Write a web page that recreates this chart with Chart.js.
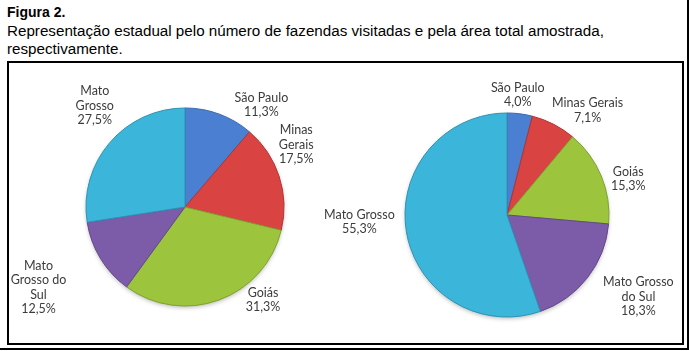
<!DOCTYPE html>
<html>
<head>
<meta charset="utf-8">
<script src="https://cdn.jsdelivr.net/npm/chart.js@4"></script>
<style>
  body { margin: 0; width: 690px; height: 351px; background: #fff; position: relative; overflow: hidden; }
  #title { position: absolute; left: 7px; top: 4px; font: bold 14px "Liberation Sans", sans-serif; color: #000; }
  #caption { position: absolute; left: 7px; top: 22px; font: 15.2px "Liberation Sans", sans-serif; line-height: 18px; color: #000; }
  #outerR { position: absolute; left: 687px; top: 0; width: 2px; height: 350px; background: #000; }
  #outerB { position: absolute; left: 0; top: 348px; width: 689px; height: 2px; background: #000; }
  #box { position: absolute; left: 7px; top: 61px; width: 673px; height: 280px; border: 2px solid #000; }
  #leftWrap { position: absolute; left: 0; top: 0; width: 321px; height: 280px; }
  #rightWrap { position: absolute; left: 281px; top: 0; width: 392px; height: 280px; }
</style>
</head>
<body>
<div id="title">Figura 2.</div>
<div id="caption">Representação estadual pelo número de fazendas visitadas e pela área total amostrada,<br>respectivamente.</div>
<div id="outerR"></div>
<div id="outerB"></div>
<div id="box">
  <div id="leftWrap"><canvas id="farmsChart"></canvas></div>
  <div id="rightWrap"><canvas id="areaChart"></canvas></div>
</div>
<script>
// ============================
// DATA
// ============================
const states = ["São Paulo", "Minas Gerais", "Goiás", "Mato Grosso do Sul", "Mato Grosso"];
const farmsShare = [11.3, 17.5, 31.3, 12.5, 27.5]; // % das fazendas visitadas
const areaShare = [4.0, 7.1, 15.3, 18.3, 55.3];    // % da área amostrada

const sliceColors = ["#4a7fd2", "#d94442", "#9cc43d", "#7c5ca8", "#3bb5d9"];
const sliceEdges = ["#3a68ad", "#b03332", "#7fa12f", "#634889", "#2c93b2"];

// ============================
// LABELS (drawn outside the arcs)
// ============================
const labelFont = '12.5px "Lato", sans-serif';

function wrapWords(ctx, text, maxW) {
  const words = text.split(" ");
  const lines = [];
  let cur = "";
  words.forEach((w) => {
    const test = cur ? cur + " " + w : w;
    if (cur && ctx.measureText(test).width > maxW) {
      lines.push(cur);
      cur = w;
    } else {
      cur = test;
    }
  });
  if (cur) lines.push(cur);
  return lines;
}

const outsideLabels = {
  id: "outsideLabels",
  beforeDatasetsDraw(chart) {
    // soft shadow under the pie
    const arc = chart.getDatasetMeta(0).data[0];
    if (!arc) return;
    const ctx = chart.ctx;
    ctx.save();
    ctx.shadowColor = "rgba(0,0,0,0.35)";
    ctx.shadowBlur = 5;
    ctx.shadowOffsetY = 2;
    ctx.fillStyle = "#ffffff";
    ctx.beginPath();
    ctx.arc(arc.x, arc.y, arc.outerRadius - 1, 0, Math.PI * 2);
    ctx.fill();
    ctx.restore();
  },
  afterDatasetsDraw(chart, args, opts) {
    const ctx = chart.ctx;
    const values = chart.data.datasets[0].data;
    ctx.save();
    ctx.font = labelFont;
    ctx.fillStyle = "#3c3c3c";
    ctx.textAlign = "center";
    ctx.textBaseline = "middle";
    chart.getDatasetMeta(0).data.forEach((arc, i) => {
      const mid = (arc.startAngle + arc.endAngle) / 2;
      const ex = arc.x + arc.outerRadius * Math.cos(mid);
      const ey = arc.y + arc.outerRadius * Math.sin(mid);
      const nudge = opts.nudge[i];
      const lines = wrapWords(ctx, chart.data.labels[i], opts.wrap);
      lines.push(values[i].toFixed(1).replace(".", ",") + "%");
      const lh = 14.5;
      const top = ey + nudge[1] - (lines.length - 1) * lh / 2;
      lines.forEach((t, k) => ctx.fillText(t, ex + nudge[0], top + k * lh));
    });
    ctx.restore();
  },
};

function makePie(canvasId, values, padding, radius, labelOpts) {
  const ctx = document.getElementById(canvasId).getContext("2d");
  return new Chart(ctx, {
    type: "pie",
    data: {
      labels: states,
      datasets: [
        {
          data: values,
          backgroundColor: sliceColors,
          borderColor: sliceEdges,
          borderWidth: 1,
        },
      ],
    },
    options: {
      responsive: true,
      maintainAspectRatio: false,
      animation: false,
      radius: radius,
      layout: { padding: padding },
      plugins: {
        legend: { display: false },
        tooltip: { enabled: false },
        outsideLabels: labelOpts,
      },
    },
    plugins: [outsideLabels],
  });
}

makePie("farmsChart", farmsShare, { left: 77, right: 46, top: 45, bottom: 37 }, 99, {
  wrap: 60,
  nudge: [[42, -9], [17, -32], [44, 0], [-62, 29], [-15, -37]],
});

makePie("areaChart", areaShare, { left: 115, right: 73, top: 50, bottom: 26 }, 102, {
  wrap: 80,
  nudge: [[-2, -19], [34, -14], [27, 3], [51, 19], [-47, -10]],
});
</script>
</body>
</html>
